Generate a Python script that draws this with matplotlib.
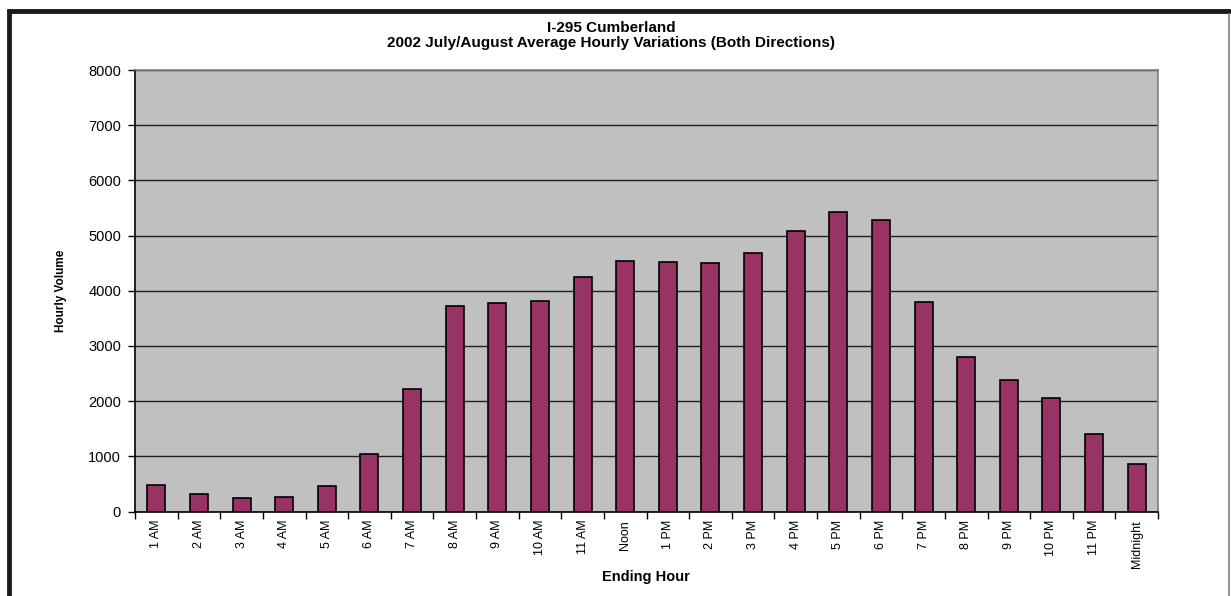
import numpy as np
import matplotlib.pyplot as plt
from matplotlib.lines import Line2D

plt.rcParams['font.family'] = ['Liberation Sans', 'DejaVu Sans']

# Datos
hours = ['1 AM', '2 AM', '3 AM', '4 AM', '5 AM', '6 AM', '7 AM', '8 AM', '9 AM',
         '10 AM', '11 AM', 'Noon', '1 PM', '2 PM', '3 PM', '4 PM', '5 PM', '6 PM',
         '7 PM', '8 PM', '9 PM', '10 PM', '11 PM', 'Midnight']
volume = [472, 320, 248, 260, 466, 1047, 2228, 3716, 3770, 3812, 4253, 4535,
          4512, 4506, 4680, 5078, 5434, 5284, 3801, 2806, 2383, 2058, 1401, 865]
y_ticks = [0, 1000, 2000, 3000, 4000, 5000, 6000, 7000, 8000]

W, H = 1231, 596
fig = plt.figure(figsize=(W / 100, H / 100), dpi=100)
ax = fig.add_axes([135 / W, 1 - 511.5 / H, (1158 - 135) / W, (511.5 - 70) / H])

x = np.arange(len(hours))
ax.set_facecolor('#C0C0C0')
ax.bar(x, volume, width=0.42, color='#993366', edgecolor='black', linewidth=1.2, zorder=3)

ax.set_xlim(-0.5, len(hours) - 0.5)
ax.set_ylim(0, 8000)
ax.set_yticks(y_ticks)
ax.set_yticklabels([str(v) for v in y_ticks], fontsize=10.5)
ax.yaxis.grid(True, color='#202020', linewidth=1, zorder=1)
ax.tick_params(axis='y', length=5, width=1, pad=5)

ax.set_xticks(x)
ax.set_xticklabels(hours, rotation=90, fontsize=9)
ax.tick_params(axis='x', which='major', length=0, pad=6)
ax.set_xticks(np.arange(len(hours) + 1) - 0.5, minor=True)
ax.tick_params(axis='x', which='minor', length=5, width=1)

for side in ['top', 'right']:
    ax.spines[side].set_color('#808080')
    ax.spines[side].set_linewidth(1.2)
for side in ['left', 'bottom']:
    ax.spines[side].set_color('black')
    ax.spines[side].set_linewidth(1.2)

ax.set_ylabel('Hourly Volume', fontsize=8.5, fontweight='bold')
ax.yaxis.set_label_coords(-68 / (1158 - 135), 0.5)
fig.text(646 / W, 1 - 577 / H, 'Ending Hour', ha='center', va='center',
         fontsize=10.5, fontweight='bold')

fig.text(611 / W, 1 - 28 / H, 'I-295 Cumberland', ha='center', va='center',
         fontsize=11, fontweight='bold')
fig.text(611 / W, 1 - 42.5 / H, '2002 July/August Average Hourly Variations (Both Directions)',
         ha='center', va='center', fontsize=11, fontweight='bold')

# Marco del grafico
fig.add_artist(Line2D([7 / W, 1], [1 - 11 / H, 1 - 11 / H], color='#1a1a1a', linewidth=3.5,
                      solid_capstyle='butt', transform=fig.transFigure))
fig.add_artist(Line2D([9 / W, 9 / W], [0, 1 - 9 / H], color='#1a1a1a', linewidth=3.5,
                      solid_capstyle='butt', transform=fig.transFigure))
fig.add_artist(Line2D([1229 / W, 1229 / W], [0, 1 - 13 / H], color='#808080', linewidth=1.2,
                      solid_capstyle='butt', transform=fig.transFigure))

fig.savefig('out.png', dpi=100)
